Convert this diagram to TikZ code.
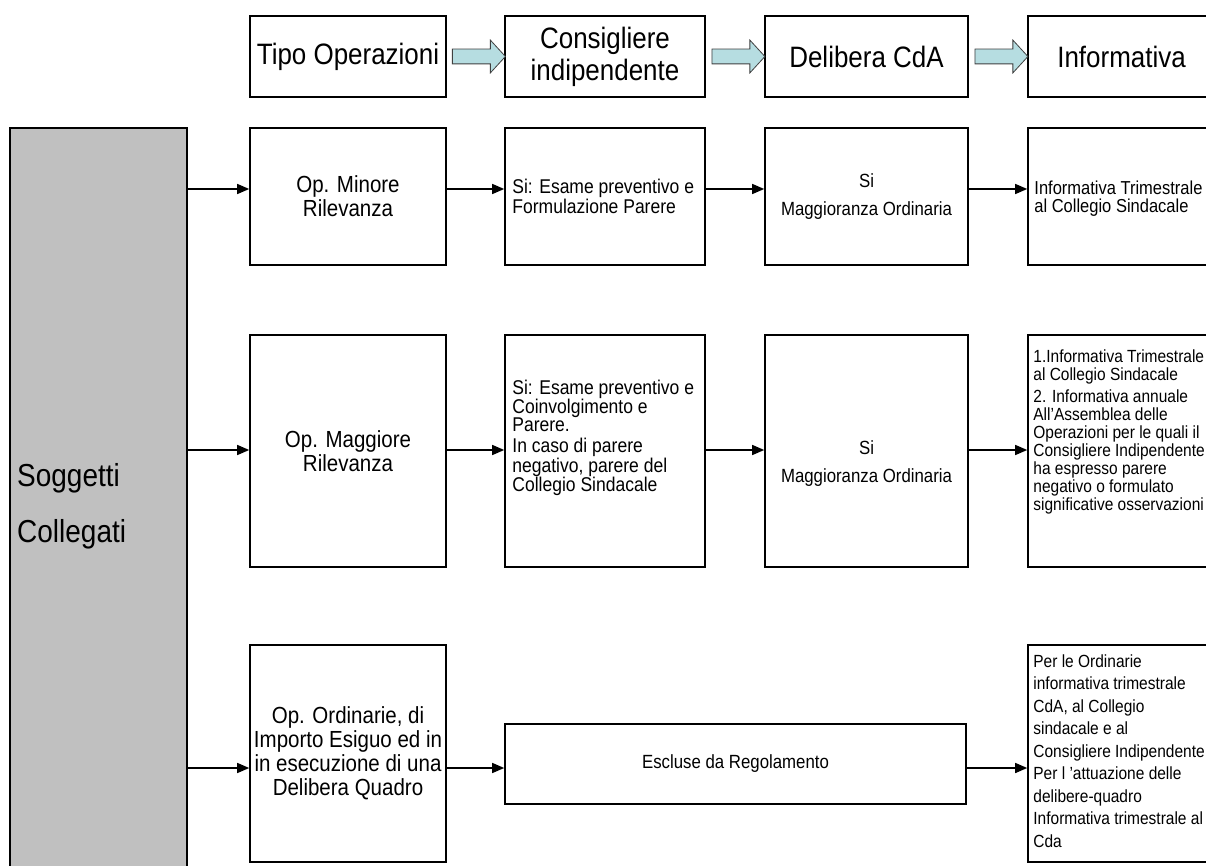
\documentclass[tikz,border=0pt]{standalone}
\usepackage{fontspec}
\setmainfont{Liberation Sans}[FakeStretch=0.88]
\usetikzlibrary{arrows.meta,shapes.arrows,calc}
\definecolor{soggfill}{RGB}{192,192,192}
\definecolor{blockfill}{RGB}{182,221,225}

\begin{document}
\begin{tikzpicture}[x=1pt,y=-1pt,
    box/.style={draw, line width=1.6pt, rectangle, inner sep=0pt, align=center},
    hdrbox/.style={box, minimum height=81pt, font=\fontsize{29.5}{32}\selectfont},
    opbox/.style={box, minimum width=196pt, font=\fontsize{23.3}{24}\selectfont},
    small/.style={inner sep=0pt, align=left, font=\fontsize{19.1}{18}\selectfont},
    tiny/.style={small, font=\fontsize{17.6}{18}\selectfont},
    conn/.style={line width=1.4pt, -{Triangle[length=12pt,width=10pt]}},
    blockarr/.style={single arrow, draw=black!75, line width=0.8pt, fill=blockfill,
      minimum height=53pt, single arrow head extend=9pt, single arrow tip angle=95, inner sep=7pt}
  ]

        \useasboundingbox (0,0) rectangle (1206,866);

        \coordinate (r1) at (0,189);
        \coordinate (r2) at (0,450);
        \coordinate (r3) at (0,768);

        % header
        \node[hdrbox, minimum width=196pt] (tipo) at (348,56.5) {Tipo Operazioni};
        \node[hdrbox, minimum width=200pt] (consi) at (605,56.5) {Consigliere\\indipendente};
        \node[hdrbox, minimum width=203pt] (delib) at (866.5,56.5) {Delibera CdA};
        \node[hdrbox, minimum width=187pt] (infor) at (1121.5,56.5) {Informativa};

        \node[blockarr] (ba1) at ($(tipo.east)!0.5!(consi.west)$) {};
        \node[blockarr] (ba2) at ($(consi.east)!0.5!(delib.west)$) {};
        \node[blockarr] (ba3) at ($(delib.east)!0.5!(infor.west)$) {};

        % soggetti collegati
        \node[box, fill=soggfill, minimum width=177pt, minimum height=752pt] (sogg) at (98.5,504) {};
        \node[inner sep=0pt, align=left, anchor=west, font=\fontsize{31.8}{56}\selectfont]
            (soggtxt) at (17,506) {Soggetti\\Collegati};

        % minore rilevanza
        \node[opbox, minimum height=137pt] (minore) at (348,196.5) {Op. Minore\\Rilevanza};
        \node[box, minimum width=200pt, minimum height=137pt] (esame1) at (605,196.5) {};
        \node[small, anchor=west, font=\fontsize{19.9}{20}\selectfont]
            (esame1txt) at ($(esame1.west)+(8,0)$) {Si: Esame preventivo e\\Formulazione Parere};
        \node[box, minimum width=203pt, minimum height=137pt] (cda1) at (866.5,196.5) {};
        \node[small, align=center] (cda1txt) at (cda1) {Si\\[10pt]Maggioranza Ordinaria};
        \node[box, minimum width=187pt, minimum height=137pt] (info1) at (1121.5,196.5) {};
        \node[small, anchor=west, font=\fontsize{18.75}{18}\selectfont]
            (info1txt) at ($(info1.west)+(7,2)$) {Informativa Trimestrale\\al Collegio Sindacale};

        % maggiore rilevanza
        \node[opbox, minimum height=232pt] (maggiore) at (348,451) {Op. Maggiore\\Rilevanza};
        \node[box, minimum width=200pt, minimum height=232pt] (esame2) at (605,451) {};
        \node[small, anchor=west, font=\fontsize{19.9}{18}\selectfont] (esame2txt) at ($(esame2.west)+(8,-13)$)
            {Si: Esame preventivo e\\Coinvolgimento e\\Parere.\\[3pt]In caso di parere\\negativo, parere del\\Collegio Sindacale};
        \node[box, minimum width=203pt, minimum height=232pt] (cda2) at (866.5,451) {};
        \node[small, align=center] (cda2txt) at ($(cda2)+(0,13)$) {Si\\[10pt]Maggioranza Ordinaria};
        \node[box, minimum width=187pt, minimum height=232pt] (info2) at (1121.5,451) {};
        \node[tiny, anchor=north west] (info2txt) at ($(info2.north west)+(6,15)$)
            {1.Informativa Trimestrale\\al Collegio Sindacale\\[4pt]2. Informativa annuale\\All’Assemblea delle\\Operazioni per le quali il\\Consigliere Indipendente\\ha espresso parere\\negativo o formulato\\significative osservazioni};

        % ordinarie
        \node[opbox, minimum height=217pt] (ordin) at (348,753.5)
            {Op. Ordinarie, di\\Importo Esiguo ed in\\in esecuzione di una\\Delibera Quadro};
        \node[box, minimum width=461pt, minimum height=80pt, font=\fontsize{19.1}{18}\selectfont]
            (escluse) at (735.5,764) {Escluse da Regolamento};
        \node[box, minimum width=187pt, minimum height=217pt] (info3) at (1121.5,753.5) {};
        \node[tiny, anchor=north west, font=\fontsize{17.6}{22.5}\selectfont] (info3txt) at ($(info3.north west)+(6,10)$)
            {Per le Ordinarie\\informativa trimestrale\\CdA, al Collegio\\sindacale e al\\Consigliere Indipendente\\Per l ’attuazione delle\\delibere-quadro\\Informativa trimestrale al\\Cda};

        \draw[conn] (sogg.east |- r1) -- (minore.west |- r1);
        \draw[conn] (minore.east |- r1) -- (esame1.west |- r1);
        \draw[conn] (esame1.east |- r1) -- (cda1.west |- r1);
        \draw[conn] (cda1.east |- r1) -- (info1.west |- r1);

        \draw[conn] (sogg.east |- r2) -- (maggiore.west |- r2);
        \draw[conn] (maggiore.east |- r2) -- (esame2.west |- r2);
        \draw[conn] (esame2.east |- r2) -- (cda2.west |- r2);
        \draw[conn] (cda2.east |- r2) -- (info2.west |- r2);

        \draw[conn] (sogg.east |- r3) -- (ordin.west |- r3);
        \draw[conn] (ordin.east |- r3) -- (escluse.west |- r3);
        \draw[conn] (escluse.east |- r3) -- (info3.west |- r3);

    \end{tikzpicture}
\end{document}
